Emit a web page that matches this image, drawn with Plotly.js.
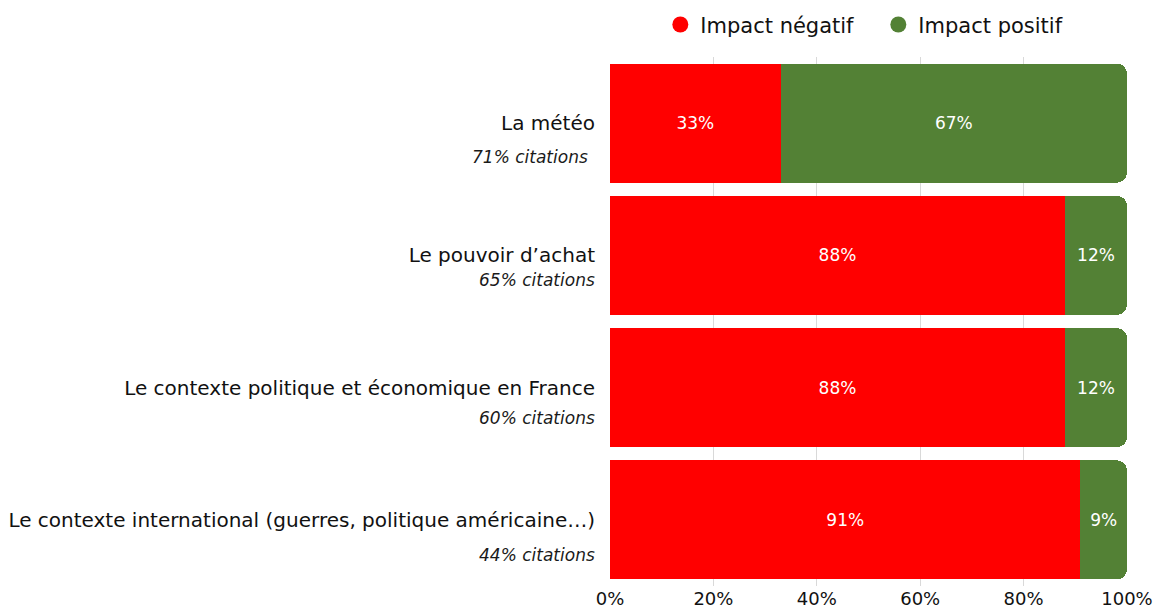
<!DOCTYPE html>
<html>
<head>
<meta charset="utf-8">
<script src="https://cdn.plot.ly/plotly-3.0.1.min.js"></script>
<style>
  html, body { margin: 0; padding: 0; background: #fff; }
  #chart { width: 1160px; height: 609px; }
</style>
</head>
<body>
<div id="chart"></div>
<script>
const categories = [
    'La météo',
    'Le pouvoir d’achat',
    'Le contexte politique et économique en France',
    'Le contexte international (guerres, politique américaine…)'
];
const citations = [71, 65, 60, 44];
const negative = [33, 88, 88, 91];
const positive = [67, 12, 12, 9];
const seriesNames = ['Impact négatif', 'Impact positif'];
const xTicks = [0, 20, 40, 60, 80, 100];

// offsets of the "xx% citations" lines under each label (px)
const citationShift = [-34, -25, -30, -35];
const citationXShift = [-20, -13, -13, -13];

const fontFamily = '"DejaVu Sans", sans-serif';
const red = '#ff0000';
const green = '#538135';

const barTrace = (values, name, color) => ({
    type: 'bar',
    orientation: 'h',
    y: categories,
    x: values,
    name: name,
    marker: { color: color },
    text: values.map(v => v + '%'),
    textposition: 'inside',
    insidetextanchor: 'middle',
    constraintext: 'none',
    textangle: 0,
    textfont: { color: '#ffffff', size: 17, family: fontFamily },
    showlegend: false,
    hoverinfo: 'skip'
});

// dummy traces, only to get round legend markers
const legendTrace = (name, color) => ({
    type: 'scatter',
    mode: 'markers',
    x: [null],
    y: [null],
    name: name,
    marker: { color: color, size: 20, symbol: 'circle' },
    hoverinfo: 'skip'
});

const data = [
    barTrace(negative, seriesNames[0], red),
    barTrace(positive, seriesNames[1], green),
    legendTrace(seriesNames[0], red),
    legendTrace(seriesNames[1], green)
];

const annotations = categories.map((cat, i) => ({
    xref: 'paper',
    yref: 'y',
    x: 0,
    y: cat,
    xanchor: 'right',
    yanchor: 'middle',
    xshift: citationXShift[i],
    yshift: citationShift[i],
    text: '<i>' + citations[i] + '% citations</i>',
    showarrow: false,
    font: { size: 17, color: '#1a1a1a', family: fontFamily }
}));

const layout = {
    width: 1160,
    height: 609,
    margin: { l: 610, r: 33, t: 57, b: 23, autoexpand: false },
    paper_bgcolor: '#ffffff',
    plot_bgcolor: '#ffffff',
    barmode: 'stack',
    bargap: 0.1,
    barcornerradius: 10,
    font: { family: fontFamily, color: '#111111', size: 18 },
    showlegend: true,
    legend: {
        orientation: 'h',
        traceorder: 'normal',
        x: 0.519,
        xanchor: 'center',
        y: 1.022,
        yanchor: 'bottom',
        font: { size: 21, color: '#111111' },
        itemwidth: 30,
        entrywidth: 173,
        entrywidthmode: 'pixels'
    },
    xaxis: {
        range: [0, 100],
        tickvals: xTicks,
        ticktext: xTicks.map(v => v + '%'),
        tickfont: { size: 18, color: '#111111' },
        showgrid: true,
        gridcolor: '#d9d9d9',
        gridwidth: 1,
        zeroline: false,
        showline: false,
        ticks: '',
        fixedrange: true
    },
    yaxis: {
        autorange: 'reversed',
        tickfont: { size: 20, color: '#111111' },
        ticks: '',
        ticklabelstandoff: 14,
        showgrid: false,
        zeroline: false,
        showline: false,
        fixedrange: true
    },
    annotations: annotations
};

Plotly.newPlot('chart', data, layout, { displayModeBar: false, staticPlot: true });
</script>
</body>
</html>
